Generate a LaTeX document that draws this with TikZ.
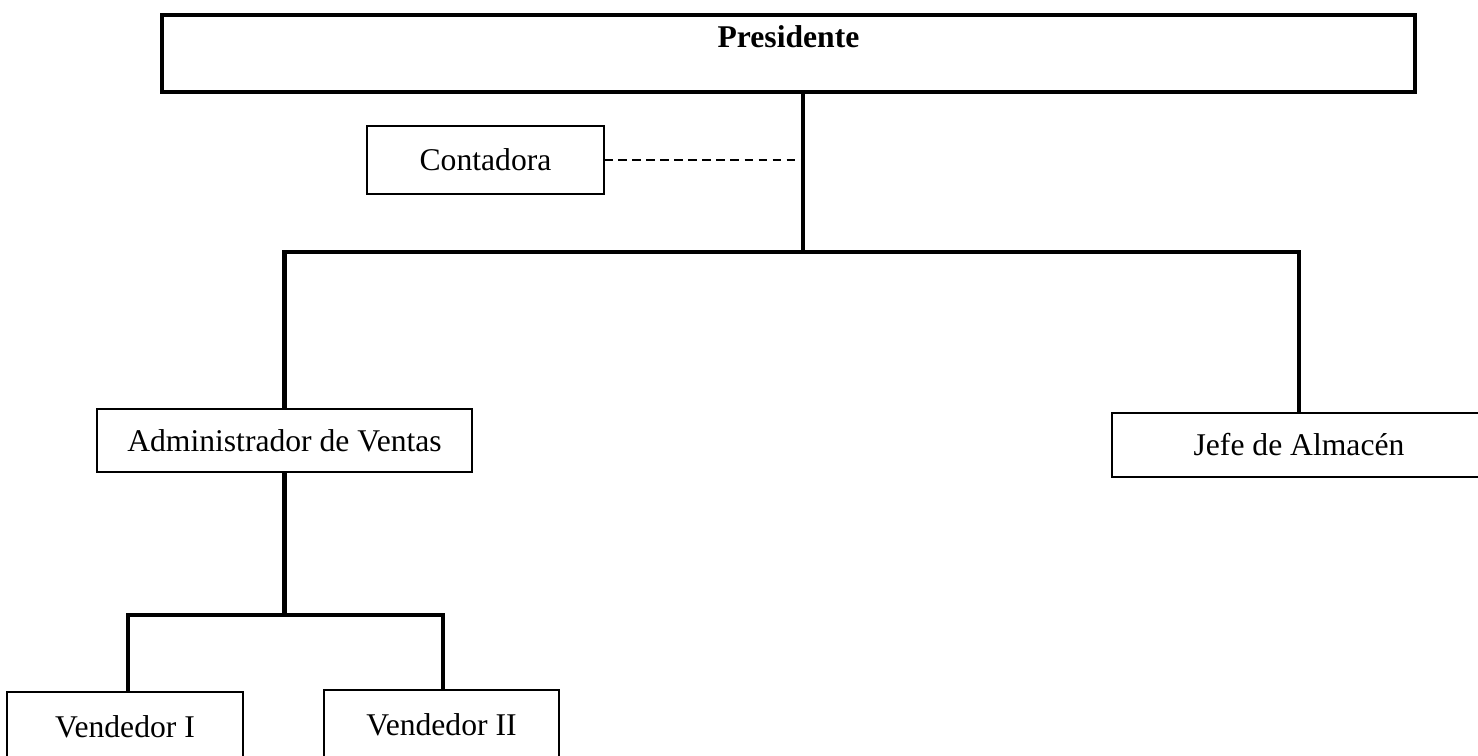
\documentclass[tikz,border=0pt]{standalone}
\usepackage{fontspec}
\setmainfont{Liberation Serif}

\begin{document}
\begin{tikzpicture}[x=0.02cm, y=-0.02cm,
  orgbox/.style={draw, line width=1pt, inner sep=0pt, outer sep=0pt, font=\fontsize{18}{21}\selectfont},
  orgline/.style={line width=2.8pt},
  staffline/.style={line width=0.7pt, dash pattern=on 5pt off 3pt}]
\useasboundingbox (0,0) rectangle (1478,755);
\clip (0,0) rectangle (1478,755);

\node[orgbox, line width=1.9pt, minimum width=25.06cm, minimum height=1.54cm,
  label={[anchor=north, inner sep=0pt, yshift=-0.2cm, font=\fontsize{18}{21}\selectfont\bfseries]north:Presidente}]
  (pres) at (788.5,53.5) {};
\node[orgbox, minimum width=4.74cm, minimum height=1.36cm] (cont) at (485.5,160) {Contadora};
\node[orgbox, minimum width=7.5cm, minimum height=1.26cm] (admin) at (284.5,440.5) {Administrador de Ventas};
\node[orgbox, minimum width=7.48cm, minimum height=1.28cm] (jefe) at (1299,445) {Jefe de Almacén};
\node[orgbox, minimum width=4.72cm, minimum height=1.4cm] (ven1) at (125,727) {Vendedor I};
\node[orgbox, minimum width=4.7cm, minimum height=1.4cm] (ven2) at (441.5,725) {Vendedor II};

\coordinate (pjoin) at (803,252);
\coordinate (vleft) at (128,615);
\coordinate (vright) at (443,615);

\draw[orgline] (pres.south -| pjoin) -- (pjoin);
\draw[orgline] (admin.north) |- (jefe.north |- pjoin) -- (jefe.north);
\draw[staffline] (cont.east) -- (cont.east -| pjoin);

\draw[orgline] (admin.south) -- (admin.south |- vleft);
\draw[orgline] (ven1.north -| vleft) -- (vleft) -- (vright) -- (vright |- ven2.north);
\end{tikzpicture}
\end{document}
